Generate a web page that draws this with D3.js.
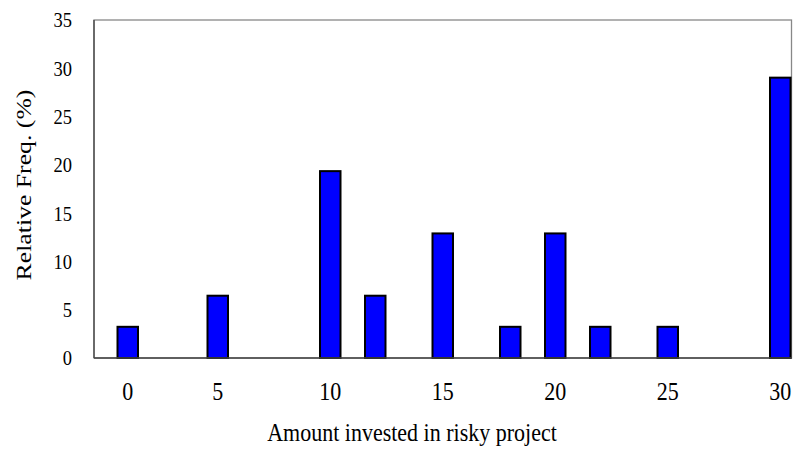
<!DOCTYPE html>
<html>
<head>
<meta charset="utf-8">
<script src="https://cdn.jsdelivr.net/npm/d3@7"></script>
<style>
  body { margin: 0; background: #fff; }
  svg { display: block; font-family: "Liberation Serif", "Times New Roman", serif; }
</style>
</head>
<body>
<svg id="chart" width="793" height="450"></svg>
<script>
// Data (relative frequency in %)
const amounts = [0, 5, 10, 12, 15, 18, 20, 22, 25, 30];
const freqs = [3.23, 6.45, 19.35, 6.45, 12.9, 3.23, 12.9, 3.23, 3.23, 29.03];

// Category slots of the x axis (first one left empty, no 1 in the original)
const xCategories = ['', '0', '2', '3', '4', '5', '6', '7', '8', '9', '10', '11', '12', '13', '14',
    '15', '16', '17', '18', '19', '20', '21', '22', '23', '24', '25', '26', '27', '28', '29', '30'];
const xTickLabels = ['0', '5', '10', '15', '20', '25', '30'];
const yTicks = [0, 5, 10, 15, 20, 25, 30, 35];

// the original picture is a bit stretched vertically, so is the text
const stretch = 1.17;

const svg = d3.select('#chart');
const margin = { top: 20, right: 1.5, bottom: 92, left: 94 };
const width = 793 - margin.left - margin.right;
const height = 450 - margin.top - margin.bottom;

const g = svg.append('g')
    .attr('transform', `translate(${margin.left},${margin.top})`);

const x = d3.scaleBand()
    .domain(xCategories)
    .range([0, width])
    .padding(0);

const y = d3.scaleLinear()
    .domain([0, 35])
    .range([height, 0]);

// Plot frame
g.append('rect')
    .attr('width', width)
    .attr('height', height)
    .attr('fill', 'none')
    .attr('stroke', '#888')
    .attr('stroke-width', 1.3);

// Bars
g.selectAll('.bar')
    .data(amounts.map((a, i) => ({ a: String(a), v: freqs[i] })))
    .join('rect')
    .classed('bar', true)
    .attr('x', d => x(d.a) + 1)
    .attr('y', d => y(d.v))
    .attr('width', x.bandwidth() - 2)
    .attr('height', d => y(0) - y(d.v))
    .attr('fill', '#0000ff')
    .attr('stroke', '#000')
    .attr('stroke-width', 2);

// Left and bottom axis lines
g.append('line')
    .attr('x1', 0).attr('x2', 0)
    .attr('y1', 0).attr('y2', height)
    .attr('stroke', '#444').attr('stroke-width', 1.3);
g.append('line')
    .attr('x1', 0).attr('x2', width)
    .attr('y1', height).attr('y2', height)
    .attr('stroke', '#444').attr('stroke-width', 1.3);

// Y axis
const yAxis = g.append('g')
    .call(d3.axisLeft(y).tickValues(yTicks).tickSize(0).tickPadding(22));
yAxis.select('.domain').remove();
yAxis.selectAll('text')
    .attr('font-family', '"Liberation Serif", serif')
    .attr('font-size', 18.5)
    .attr('fill', '#000')
    .attr('transform', `scale(1,${stretch})`);

// X axis
const xAxis = g.append('g')
    .attr('transform', `translate(0,${height})`)
    .call(d3.axisBottom(x).tickValues(xTickLabels).tickSize(0).tickPadding(20));
xAxis.select('.domain').remove();
xAxis.selectAll('text')
    .attr('font-family', '"Liberation Serif", serif')
    .attr('font-size', 22)
    .attr('fill', '#000')
    .attr('transform', `scale(1,${stretch})`);

// Axis titles
svg.append('text')
    .attr('transform', `translate(412,441) scale(1,${stretch})`)
    .attr('text-anchor', 'middle')
    .attr('font-size', 22)
    .text('Amount invested in risky project');

svg.append('text')
    .attr('transform', `translate(31,185) rotate(-90) scale(${stretch},1)`)
    .attr('text-anchor', 'middle')
    .attr('font-size', 22)
    .text('Relative Freq. (%)');
</script>
</body>
</html>
